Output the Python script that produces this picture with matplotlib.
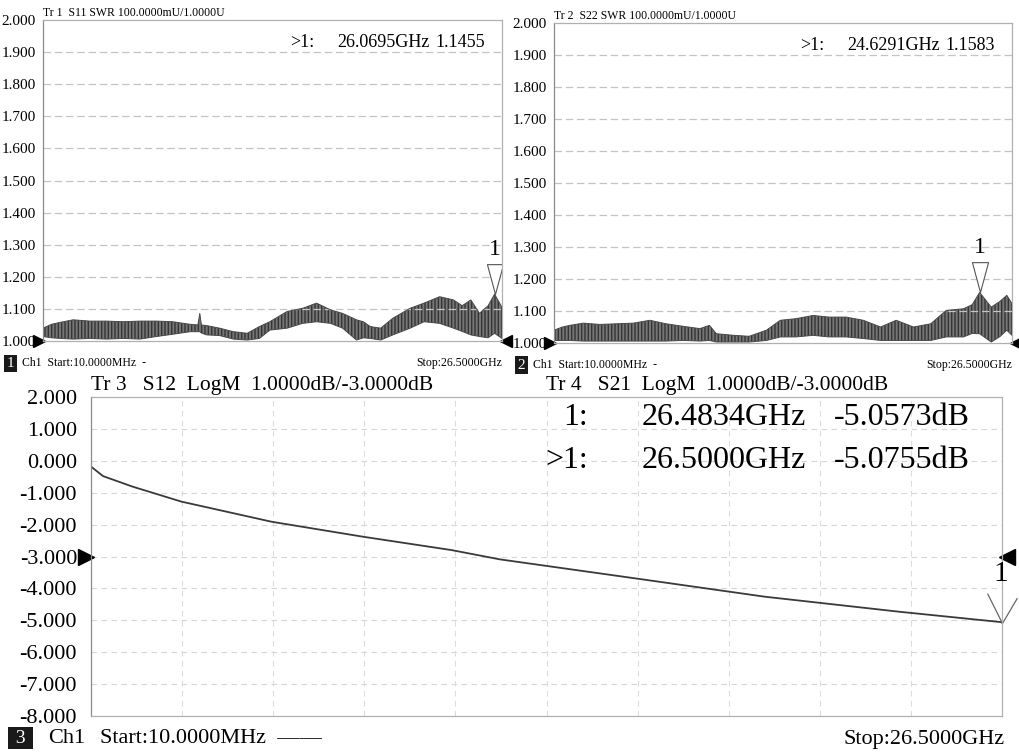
import matplotlib
matplotlib.use('Agg')
import matplotlib.pyplot as plt
import matplotlib.transforms as mtrans
from matplotlib.path import Path

# S11 SWR envelope (GHz, upper, lower)
s11_f = [0.01, 0.5, 1.0, 1.75, 2.71, 3.68, 4.64, 5.6, 6.56, 7.5, 8.5, 8.95, 9.06, 9.15,
         9.45, 10.2, 11.0, 11.8, 12.5, 13.1, 14.1, 15.0, 15.8, 16.6, 17.3, 18.1, 18.5,
         18.9, 19.5, 20.2, 21.2, 22.0, 22.9, 23.7, 24.2, 24.7, 25.2, 25.7, 26.07, 26.5]
s11_hi = [1.040, 1.052, 1.058, 1.066, 1.062, 1.062, 1.060, 1.062, 1.062, 1.060, 1.052, 1.050,
          1.086, 1.050, 1.048, 1.040, 1.029, 1.024, 1.045, 1.060, 1.092, 1.102, 1.118, 1.097,
          1.086, 1.066, 1.060, 1.045, 1.040, 1.071, 1.102, 1.118, 1.138, 1.128, 1.110, 1.128,
          1.086, 1.110, 1.146, 1.105]
s11_lo = [1.014, 1.010, 1.008, 1.006, 1.008, 1.006, 1.008, 1.006, 1.014, 1.021, 1.029, 1.029,
          1.029, 1.025, 1.019, 1.017, 1.006, 1.003, 1.008, 1.034, 1.040, 1.055, 1.060, 1.055,
          1.040, 1.003, 1.010, 1.008, 1.003, 1.019, 1.040, 1.060, 1.055, 1.040, 1.030, 1.019,
          1.014, 1.010, 1.024, 1.008]

# S22 SWR envelope
s22_f = [0.01, 0.5, 0.92, 1.7, 2.66, 3.6, 4.6, 5.55, 6.5, 7.5, 8.45, 9.0, 9.4, 10.4, 11.3,
         12.3, 13.1, 14.0, 15.0, 15.9, 16.9, 17.9, 18.9, 19.8, 20.8, 21.8, 22.7, 23.7, 24.2,
         24.63, 25.3, 25.8, 26.2, 26.5]
s22_hi = [1.040, 1.050, 1.055, 1.062, 1.058, 1.060, 1.062, 1.071, 1.060, 1.052, 1.045, 1.055,
          1.029, 1.024, 1.021, 1.040, 1.071, 1.076, 1.086, 1.081, 1.081, 1.071, 1.050, 1.071,
          1.050, 1.060, 1.102, 1.107, 1.120, 1.158, 1.112, 1.130, 1.149, 1.123]
s22_lo = [1.008, 1.008, 1.008, 1.006, 1.006, 1.006, 1.006, 1.006, 1.006, 1.008, 1.006, 1.008,
          1.003, 1.003, 1.003, 1.008, 1.019, 1.019, 1.024, 1.019, 1.019, 1.014, 1.008, 1.008,
          1.008, 1.008, 1.019, 1.019, 1.030, 1.029, 1.003, 1.020, 1.040, 1.024]

# S21 LogM trace
s21_f = [0.01, 0.36, 1.22, 2.64, 5.26, 7.92, 10.5, 11.9, 15.8, 19.6, 23.5, 26.48, 26.5]
s21_db = [-0.18, -0.48, -0.81, -1.28, -1.91, -2.38, -2.80, -3.09, -3.68, -4.26, -4.73,
          -5.0573, -5.0755]

swr_ticks = [1.0, 1.1, 1.2, 1.3, 1.4, 1.5, 1.6, 1.7, 1.8, 1.9, 2.0]
db_ticks = [2, 1, 0, -1, -2, -3, -4, -5, -6, -7, -8]

m11 = (26.0695, 1.1455)
m22 = (24.6291, 1.1583)
m21 = (26.5, -5.0755)
m21b = (26.4834, -5.0573)

W, H = 1019, 755
fig = plt.figure(figsize=(W / 100, H / 100), dpi=100)
fig.patch.set_facecolor('white')

SERIF = dict(family='Liberation Serif')

tri_down = Path([(-0.27, 1.0), (0.27, 1.0), (0.0, 0.0), (-0.27, 1.0)],
                [Path.MOVETO, Path.LINETO, Path.LINETO, Path.CLOSEPOLY])
vee = Path([(-0.5, 1.0), (0.0, 0.0), (0.5, 0.85)],
           [Path.MOVETO, Path.LINETO, Path.LINETO])


def box(x0, y0, x1, y1):
    return fig.add_axes([x0 / W, 1 - y1 / H, (x1 - x0) / W, (y1 - y0) / H])


def frame(ax):
    for s in ax.spines.values():
        s.set_color('#b0b0b0')
        s.set_linewidth(0.9)
    ax.spines['left'].set_color('#8a8a8a')
    ax.tick_params(length=0)


def swr_panel(ax, f, hi, lo, mk, num, title):
    ax.set_xlim(0.01, 26.5)
    ax.set_ylim(1.0, 2.0)
    ax.set_yticks(swr_ticks)
    ax.set_yticklabels(['%.3f' % v for v in swr_ticks], fontsize=11, **SERIF)
    ax.set_xticks([])
    for v in swr_ticks[1:-1]:
        ax.axhline(v, color='#c4c4c4', lw=0.9, ls=(0, (6, 3)))
    frame(ax)
    ax.tick_params(axis='y', pad=5)
    ax.fill_between(f, lo, hi, facecolor='#767676', edgecolor='#353535', hatch='|||||', lw=0)
    ax.plot(f, hi, color='#4a4a4a', lw=0.7)
    ax.plot(f, lo, color='#4a4a4a', lw=0.7)
    ax.plot(mk[0], mk[1], marker=tri_down, ms=43, mfc='white', mec='#555555', mew=0.8)
    ax.annotate('1', (mk[0], mk[1]), xytext=(0, 25), textcoords='offset points',
                ha='center', va='bottom', fontsize=17, **SERIF)
    ax.text(0.0, 1.004, title, transform=ax.transAxes, fontsize=8.5, va='bottom', **SERIF)
    ax.text(0.538, 0.955, '>1:', transform=ax.transAxes,
            ha='left', va='top', fontsize=13, **SERIF)
    ax.text(0.64, 0.955, '%.4fGHz' % mk[0], transform=ax.transAxes,
            ha='left', va='top', fontsize=13, **SERIF)
    ax.text(0.963, 0.955, '%.4f' % mk[1], transform=ax.transAxes,
            ha='right', va='top', fontsize=13, **SERIF)
    left = mtrans.blended_transform_factory(ax.transAxes, ax.transData)
    ax.plot(-0.008, 1.0, marker='>', ms=9, color='black', transform=left, clip_on=False)
    ax.plot(1.008, 1.0, marker='<', ms=9, color='black', transform=left, clip_on=False)
    ax.text(-0.079, -0.07, num, transform=ax.transAxes, color='white', fontsize=11,
            va='center', ha='left', bbox=dict(facecolor='#1a1a1a', edgecolor='none', pad=1.8),
            **SERIF)
    ax.text(-0.045, -0.07, 'Ch1  Start:10.0000MHz  -', transform=ax.transAxes,
            fontsize=8.5, va='center', ha='left', **SERIF)
    ax.text(1.0, -0.07, 'Stop:26.5000GHz', transform=ax.transAxes,
            fontsize=8.5, va='center', ha='right', **SERIF)


ax1 = box(43, 20, 502, 341)
swr_panel(ax1, s11_f, s11_hi, s11_lo, m11, '1', 'Tr 1  S11 SWR 100.0000mU/1.0000U')

ax2 = box(554, 23, 1012, 343)
swr_panel(ax2, s22_f, s22_hi, s22_lo, m22, '2', 'Tr 2  S22 SWR 100.0000mU/1.0000U')

# bottom LogM panel
ax3 = box(91, 397, 1002, 716)
ax3.set_xlim(0.01, 26.5)
ax3.set_ylim(-8, 2)
ax3.set_yticks(db_ticks)
ax3.set_yticklabels(['%.3f' % v for v in db_ticks], fontsize=16, **SERIF)
ax3.set_xticks([])
frame(ax3)
ax3.tick_params(axis='y', pad=10)
for v in db_ticks[1:-1]:
    ax3.axhline(v, color='#d6d6d6', lw=0.8, ls=(0, (5, 4)))
for k in range(1, 10):
    ax3.axvline(0.01 + k * (26.5 - 0.01) / 10, color='#dcdcdc', lw=0.8, ls=(0, (5, 4)))
ax3.plot(s21_f, s21_db, color='#3a3a3a', lw=1.3)
ax3.plot(m21[0], m21[1], marker=vee, ms=43, mfc='none', mec='#666666', mew=0.9, clip_on=False)
ax3.annotate('1', (m21[0], m21[1]), xytext=(-1, 26), textcoords='offset points',
             ha='center', va='bottom', fontsize=21, **SERIF)
ax3.text(0.0, 1.005, 'Tr 3   S12  LogM  1.0000dB/-3.0000dB', transform=ax3.transAxes,
         fontsize=15.5, va='bottom', **SERIF)
ax3.text(0.50, 1.005, 'Tr 4   S21  LogM  1.0000dB/-3.0000dB', transform=ax3.transAxes,
         fontsize=15.5, va='bottom', **SERIF)
for lab, mk, yy in [('1:', m21b, 0.937), ('>1:', m21, 0.802)]:
    ax3.text(0.5456, yy, lab, transform=ax3.transAxes, ha='right', va='center',
             fontsize=23, **SERIF)
    ax3.text(0.6048, yy, '%.4fGHz' % mk[0], transform=ax3.transAxes, ha='left',
             va='center', fontsize=23, **SERIF)
    ax3.text(0.9649, yy, '%.4fdB' % mk[1], transform=ax3.transAxes, ha='right',
             va='center', fontsize=23, **SERIF)
lt = mtrans.blended_transform_factory(ax3.transAxes, ax3.transData)
ax3.plot(-0.006, -3.0, marker='>', ms=11, color='black', transform=lt, clip_on=False)
ax3.plot(1.006, -3.0, marker='<', ms=11, color='black', transform=lt, clip_on=False)
ax3.text(-0.088, -0.069, ' 3 ', transform=ax3.transAxes, color='white', fontsize=14,
         va='center', ha='left', bbox=dict(facecolor='#1a1a1a', edgecolor='none', pad=2),
         **SERIF)
ax3.text(-0.047, -0.069, 'Ch1', transform=ax3.transAxes,
         fontsize=16, va='center', ha='left', **SERIF)
ax3.text(0.0099, -0.069, 'Start:10.0000MHz  \u2014\u2014', transform=ax3.transAxes,
         fontsize=16, va='center', ha='left', **SERIF)
ax3.text(1.003, -0.075, 'Stop:26.5000GHz', transform=ax3.transAxes,
         fontsize=16, va='center', ha='right', **SERIF)

fig.savefig('out.png', dpi=100, facecolor='white')
